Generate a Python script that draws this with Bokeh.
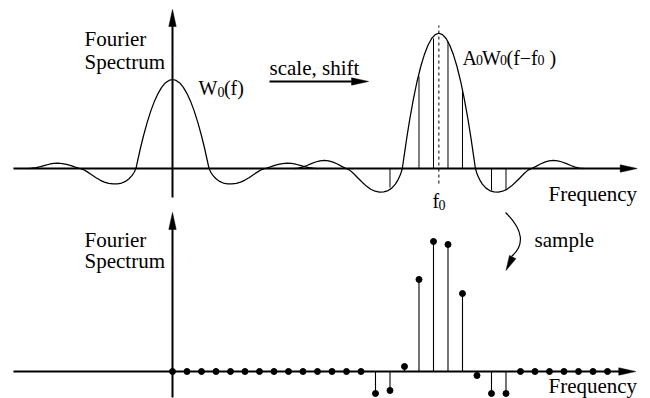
import numpy as np
from bokeh.plotting import figure
from bokeh.models import Range1d, Label
from bokeh.embed import file_html
from bokeh.resources import INLINE

# ---------------- data ----------------
# one side of the window spectrum W0, offset in sample steps -> relative amplitude
w0_offsets = [0.00, 0.25, 0.50, 0.75, 1.00, 1.25, 1.50, 1.75, 2.00, 2.20, 2.40, 2.52,
              2.65, 2.80, 3.00, 3.25, 3.50, 3.80, 4.10, 4.40, 4.70, 5.00, 5.30, 5.60,
              5.90, 6.15, 6.40, 6.70, 7.00, 7.30, 7.60, 7.90, 8.20, 8.50, 8.80, 9.10,
              9.40, 9.70, 10.00]
w0_values = [1.000, 0.990, 0.961, 0.911, 0.842, 0.754, 0.645, 0.516, 0.368, 0.236, 0.090, 0.000,
             -0.045, -0.080, -0.115, -0.145, -0.163, -0.172, -0.174, -0.168, -0.153, -0.130, -0.100, -0.068,
             -0.035, -0.012, 0.000, 0.016, 0.033, 0.047, 0.056, 0.060, 0.057, 0.048, 0.036, 0.022,
             0.010, 0.003, 0.000]
f0 = 18.37      # shift of the scaled spectrum (in sample steps)
A0 = 1.52       # scale of the shifted spectrum

# sampled spectrum, sample index k = 0..30
sample_k = [0, 1, 2, 3, 4, 5, 6, 7, 8, 9, 10, 11, 12, 13, 14, 15, 16, 17, 18, 19,
            20, 21, 22, 23, 24, 25, 26, 27, 28, 29, 30]
sample_values = [0, 0, 0, 0, 0, 0, 0, 0, 0, 0, 0, 0, 0, 0, -0.247, -0.213, 0.056, 1.034, 1.461, 1.427,
                 0.876, -0.045, -0.247, -0.247, 0, 0, 0, 0, 0, 0, 0]
# samples marked by vertical lines under the shifted spectrum
marked_k = [15, 17, 18, 19, 20, 22, 23]

# ---------------- figure ----------------
W, H = 650, 398
x0, x1 = -11.862, 32.966
top_lo, top_hi = -2.584, 1.8876
bot_lo, bot_hi = -0.3034, 4.1685
SX = W / (x1 - x0)
SY = H / (top_hi - top_lo)

p = figure(width=W, height=H, output_backend="svg", toolbar_location=None,
           x_range=Range1d(x0, x1), y_range=Range1d(top_lo, top_hi),
           min_border=0, outline_line_color=None)
p.extra_y_ranges = {"bot": Range1d(bot_lo, bot_hi)}
p.xaxis.visible = False
p.yaxis.visible = False
p.grid.visible = False
p.background_fill_color = "white"
p.border_fill_color = "white"

FONT = "Liberation Serif"


def head(tx, ty, dx, dy, length=17.0, half=3.7):
    n = np.hypot(dx, dy)
    ux, uy = dx / n, dy / n
    bx, by = -ux * length, -uy * length
    qx, qy = -uy * half, ux * half
    xs = [tx, tx + (bx + qx) / SX, tx + (bx - qx) / SX]
    ys = [ty, ty + (by + qy) / SY, ty + (by - qy) / SY]
    return xs, ys


def arrow(xa, ya, xb, yb, rng="default", width=2.0):
    dx, dy = (xb - xa) * SX, (yb - ya) * SY
    n = np.hypot(dx, dy)
    back = 10.0
    xe, ye = xb - dx / n * back / SX, yb - dy / n * back / SY
    p.line([xa, xe], [ya, ye], line_width=width, color="black", y_range_name=rng)
    hx, hy = head(xb, yb, dx, dy)
    p.patch(hx, hy, color="black", line_width=0.5, y_range_name=rng)


def label(x, y, pieces, rng="default"):
    for dx, txt, size, dy in pieces:
        p.add_layout(Label(x=x, y=y, x_offset=dx, y_offset=dy, text=txt,
                           text_font=FONT, text_font_size=f"{size}px",
                           text_color="black", text_baseline="alphabetic",
                           text_align="left", y_range_name=rng))


# ---------------- top panel ----------------
offs = [-u for u in w0_offsets[::-1]] + w0_offsets[1:]
vals = w0_values[::-1] + w0_values[1:]

arrow(-10.97, 0, 32.05, 0)
arrow(0, -0.326, 0, 1.787)

p.line(offs, vals, color="black", line_width=1.25)
p.line([f0 + o for o in offs], [A0 * v for v in vals], color="black", line_width=1.25)

mk_vals = [sample_values[k] for k in marked_k]
p.segment(x0=marked_k, y0=[0] * len(marked_k), x1=marked_k, y1=mk_vals,
          color="black", line_width=1)
p.line([f0, f0], [-0.169, 1.607], color="black", line_width=1, line_dash="3 3")

arrow(6.69, 0.978, 13.52, 0.978)

label(-6.07, 1.455, [(0, "Fourier", 21, 0)])
label(-6.07, 1.202, [(0, "Spectrum", 21, 0)])
label(1.79, 0.91, [(0, "W", 20, 0), (19, "0", 14, -4), (25.5, "(f)", 20, 0)])
label(6.69, 1.124, [(0, "scale, shift", 21, 0)])
label(20.0, 1.236, [(0, "A", 20, 0), (13.5, "0", 14, -2), (19.5, "W", 20, 0), (37.5, "0", 14, -2),
                    (44, "(f−f", 20, 0), (75, "0", 14, -2), (87, ")", 20, 0)])
label(17.93, -0.36, [(0, "f", 20, 0), (6, "0", 14, -4)])
label(25.93, -0.281, [(0, "Frequency", 21, 0)])

# ---------------- bottom panel ----------------
arrow(-10.97, 0, 31.95, 0, rng="bot")
arrow(0, -0.292, 0, 1.787, rng="bot")

p.segment(x0=sample_k, y0=[0] * len(sample_k), x1=sample_k, y1=sample_values,
          color="black", line_width=1.1, y_range_name="bot")
p.scatter(sample_k, sample_values, size=6, color="black", y_range_name="bot")

label(-6.07, 1.483, [(0, "Fourier", 21, 0)], rng="bot")
label(-6.07, 1.236, [(0, "Spectrum", 21, 0)], rng="bot")
label(25.93, -0.16, [(0, "Frequency", 21, 0)], rng="bot")
label(24.97, 1.472, [(0, "sample", 21, 0)], rng="bot")

# curved "sample" arrow
p.quadratic(x0=[22.97], y0=[1.787], x1=[23.38], y1=[1.292], cx=[24.79], cy=[1.49],
            color="black", line_width=1.2, y_range_name="bot")
hx, hy = head(23.0, 1.135, -7.0, -14.0, length=15, half=3.6)
p.patch(hx, hy, color="black", line_width=0.5, y_range_name="bot")

open("out.html", "w").write(file_html(p, INLINE))
